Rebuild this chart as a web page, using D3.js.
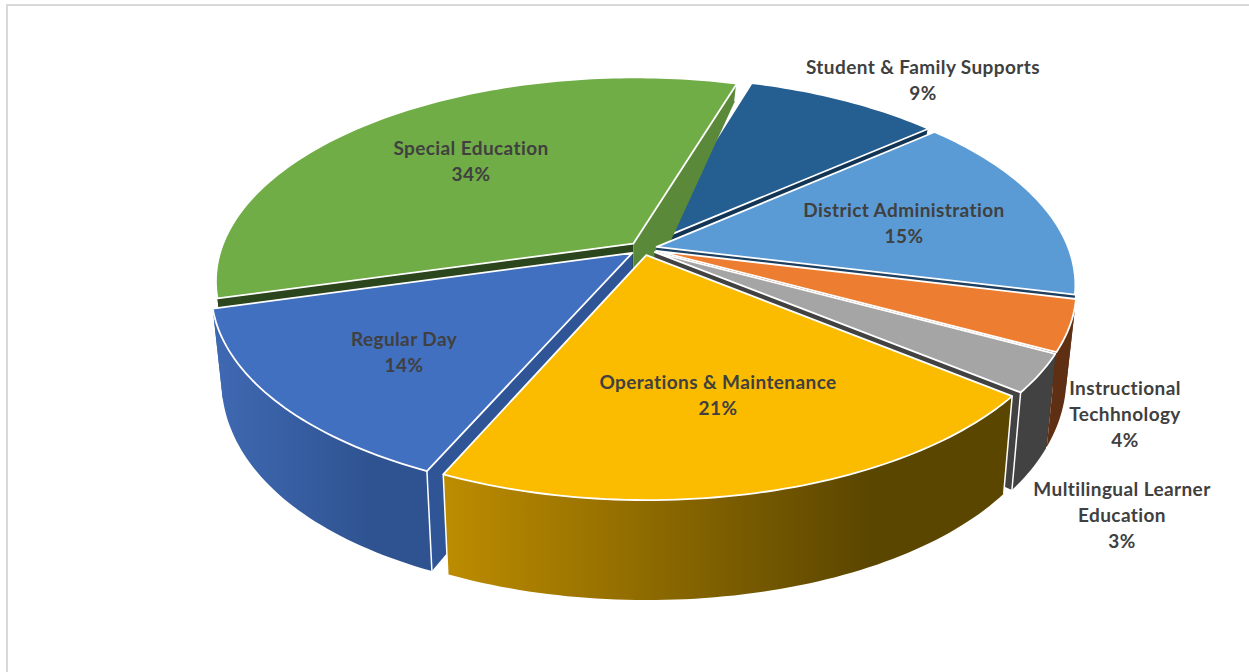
<!DOCTYPE html>
<html>
<head>
<meta charset="utf-8">
<style>
  html, body { margin: 0; padding: 0; background: #fff; }
  svg { display: block; }
  text { font-family: Lato, "Open Sans", sans-serif; font-weight: 700; fill: #404040; font-size: 19px; letter-spacing: 0.4px; text-anchor: middle; dominant-baseline: central; }
</style>
</head>
<body>
<svg id="chart" width="1249" height="672"></svg>
<script src="https://cdn.jsdelivr.net/npm/d3@7/dist/d3.min.js"></script>
<script>
// Budget shares, clockwise from the top of the pie
const categories = ["Student & Family Supports", "District Administration", "Instructional Techhnology",
                    "Multilingual Learner Education", "Operations & Maintenance", "Regular Day", "Special Education"];
const shares = [9, 15, 4, 3, 21, 14, 34];
const labelLines = [["Student & Family Supports"], ["District Administration"], ["Instructional", "Techhnology"],
                    ["Multilingual Learner", "Education"], ["Operations & Maintenance"], ["Regular Day"], ["Special Education"]];
const topColors = ["#255e91", "#5b9bd5", "#ed7d31", "#a5a5a5", "#fbbc00", "#4270c0", "#70ad47"];
const wallStart = ["#123555", "#1f3f5f", "#5e2f12", "#424242", "#bd8c00", "#3f69b3", "#2b451c"];
const wallEnd   = ["#123555", "#1f3f5f", "#5e2f12", "#424242", "#5b4600", "#2f5390", "#5a8a39"];
const cutColors = ["#123555", "#1f3f5f", "#5e2f12", "#424242", "#5b4600", "#2f5597", "#5a8a39"];
const lowerCut  = ["#123555", "#1f3f5f", "#5e2f12", "#424242", "#5b4600", "#2f5597", "#2b451c"];
const labelAnchors = [[923, 66], [904, 209], [1125, 387], [1122, 488], [718, 381], [404, 338], [471, 147]];
// Painter's order: rear wedges first, the front wedge last
const drawOrder = [0, 6, 1, 2, 3, 5, 4];

const svg = d3.select("#chart");
const defs = svg.append("defs");

// Chart frame: top and left rules only
svg.append("path").attr("d", "M7,672V5H1249").attr("fill", "none").attr("stroke", "#d9d9d9").attr("stroke-width", 2);

// Perspective ground plane: u runs right, v runs toward the viewer, both in units of the pie radius
const centerX = 643, centerY = 248.5, radiusX = 412, radiusY = 198, tilt = 0.181, explode = 0.034;
const xScale = d3.scaleLinear().domain([0, 1]).range([0, radiusX]);
const yScale = d3.scaleLinear().domain([0, 1]).range([0, radiusY]);
const shrink = 0.977;

function projectTop(u, v) {
  const s = 1 / (1 - tilt * v);
  return [centerX + xScale(u) * s, centerY + yScale(v) * s];
}
// The lower face sits slightly narrower and its drop grows toward the viewer
function projectBottom(u, v) {
  const [x, y] = projectTop(u, v);
  const drop = 79.3 + 42 * v - 21.3 * v * v;
  return [centerX + (x - centerX) * shrink, y + drop];
}

const startDeg = 17;
const pie = d3.pie().sort(null).value(d => d)
  .startAngle(startDeg * Math.PI / 180).endAngle(startDeg * Math.PI / 180 + 2 * Math.PI);
const arcs = pie(shares);
const line = d3.line();

function planePoint(d, r, a) {
  const mid = (d.startAngle + d.endAngle) / 2;
  return [explode * Math.sin(mid) + r * Math.sin(a), -explode * Math.cos(mid) - r * Math.cos(a)];
}
function rimAngles(d) {
  const n = Math.max(8, Math.ceil((d.endAngle - d.startAngle) / 0.02));
  return d3.range(n + 1).map(i => d.startAngle + (d.endAngle - d.startAngle) * i / n);
}

const wedges = svg.append("g");
drawOrder.forEach(i => {
  const d = arcs[i];
  const g = wedges.append("g").attr("class", "wedge");
  const apex = planePoint(d, 0, 0);
  const rim = rimAngles(d).map(a => planePoint(d, 1, a));
  const first = rim[0], last = rim[rim.length - 1];

  const gradId = "wall" + i;
  const gradExtent = d3.extent(rim.map(p => projectTop(p[0], p[1])[0]));
  const grad = defs.append("linearGradient").attr("id", gradId)
    .attr("gradientUnits", "userSpaceOnUse")
    .attr("x1", gradExtent[0]).attr("x2", gradExtent[1]).attr("y1", 0).attr("y2", 0);
  grad.append("stop").attr("offset", 0).attr("stop-color", wallStart[i]);
  grad.append("stop").attr("offset", 0.75).attr("stop-color", wallEnd[i]);

  const edge = { stroke: "#fff", "stroke-width": 1.8, "stroke-linejoin": "round" };
  const face = (pts, fill, stroke) => {
    const p = g.append("path").attr("d", line(pts) + "Z").attr("fill", fill);
    if (stroke) Object.entries(edge).forEach(([k, v]) => p.attr(k, v));
    return p;
  };

  // Cut faces running from the apex to each end of the rim
  const cut = (end, fill) => face([
    projectTop(...apex), projectTop(...end), projectBottom(...end), projectBottom(...apex)
  ], fill, false);
  cut(first, lowerCut[i]);
  cut(last, cutColors[i]);

  // Outer wall
  const wallPts = rim.map(p => projectTop(...p)).concat(rim.slice().reverse().map(p => projectBottom(...p)));
  face(wallPts, `url(#${gradId})`, false);

  // White edges on the wall ends, skipped where the end sits on the pie's silhouette
  [first, last].filter(end => Math.abs(end[0]) < 0.9).forEach(end => {
    g.append("path").attr("d", line([projectTop(...end), projectBottom(...end)]))
      .attr("stroke", "#fff").attr("stroke-width", 1.5).attr("fill", "none");
  });

  // Top face
  face([projectTop(...apex)].concat(rim.map(p => projectTop(...p))), topColors[i], true);
});

// Category and percentage labels
const labels = svg.append("g");
arcs.forEach((d, i) => {
  const [x, y] = labelAnchors[i];
  const lines = labelLines[i].concat(d.data + "%");
  lines.forEach((t, k) => {
    labels.append("text").attr("x", x).attr("y", y + k * 26.3).text(t);
  });
});
</script>
</body>
</html>
